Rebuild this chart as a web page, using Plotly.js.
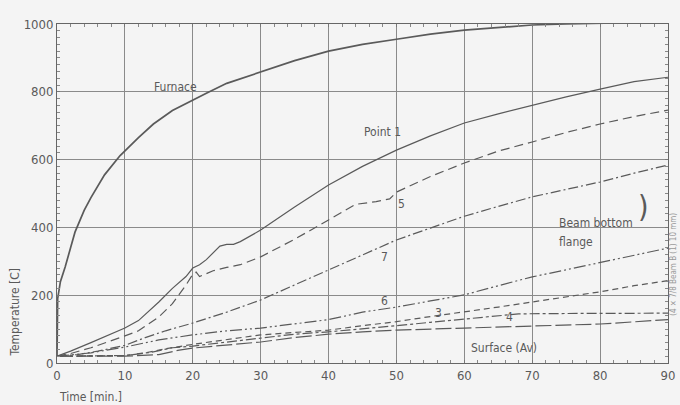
<!DOCTYPE html>
<html>
<head>
<meta charset="utf-8">
<script src="https://cdn.plot.ly/plotly-3.0.1.min.js"></script>
<style>html,body{margin:0;padding:0;background:#f4f4f4;}#chart{width:680px;height:405px;}</style>
</head>
<body>
<div id="chart"></div>
<script>
// Time in minutes, temperatures in °C
const furnaceT = [0, 0.1, 0.5, 1.2, 2, 2.65, 4, 5, 7, 9.3, 12, 14.2, 17, 20, 22, 25, 29.6, 35, 40, 45, 50, 55, 60, 65, 70, 75, 80, 84];
const furnaceV = [20, 190, 240, 283, 340, 386, 450, 488, 555, 612, 665, 705, 745, 776, 796, 825, 855, 892, 920, 940, 955, 970, 982, 990, 997, 1000, 1003, 1004];

const p1T = [0, 2, 5, 8, 10, 12, 15, 17, 19, 20, 21, 22, 23, 24, 25, 26, 27, 28, 30, 35, 40, 45, 50, 55, 60, 65, 70, 75, 80, 85, 90];
const p1V = [20, 35, 60, 85, 103, 125, 180, 220, 255, 280, 290, 305, 325, 345, 350, 350, 358, 370, 392, 460, 525, 580, 628, 670, 708, 735, 761, 785, 808, 830, 843];

const p5T = [0, 2, 5, 8, 10, 12, 15, 17, 19, 20, 20.5, 21, 23, 25, 27, 30, 35, 40, 44, 47, 49, 50, 55, 60, 65, 70, 75, 80, 85, 90];
const p5V = [20, 28, 45, 65, 80, 95, 136, 175, 230, 262, 268, 255, 272, 282, 290, 313, 365, 422, 468, 476, 484, 504, 550, 590, 625, 652, 680, 705, 727, 746];

const p7T = [0, 3, 6, 10, 13, 16, 20, 25, 30, 35, 40, 45, 50, 55, 60, 65, 70, 75, 80, 85, 90];
const p7V = [20, 25, 35, 52, 75, 95, 118, 150, 186, 230, 274, 318, 363, 398, 433, 462, 490, 512, 534, 560, 584];

const p6T = [0, 5, 10, 15, 20, 25, 30, 35, 40, 45, 50, 55, 60, 65, 70, 75, 80, 85, 90];
const p6V = [20, 30, 47, 68, 83, 95, 103, 115, 128, 150, 165, 183, 201, 228, 254, 275, 297, 318, 339];

const p3T = [0, 5, 10, 13, 16, 20, 25, 30, 35, 40, 45, 50, 55, 60, 65, 70, 75, 80, 85, 90];
const p3V = [20, 20, 22, 30, 42, 55, 70, 83, 90, 97, 110, 122, 137, 150, 165, 180, 195, 210, 228, 243];

const p4T = [0, 5, 10, 14, 17, 20, 25, 30, 35, 40, 45, 50, 55, 60, 65, 68, 75, 80, 90];
const p4V = [20, 20, 22, 32, 45, 50, 62, 75, 85, 92, 100, 110, 120, 130, 140, 145, 146, 146, 147];

const surfT = [0, 10, 15, 18, 20, 25, 30, 35, 40, 45, 50, 60, 70, 80, 90];
const surfV = [20, 20, 25, 38, 44, 52, 62, 75, 85, 92, 97, 103, 108, 115, 128];

const xTicks = [0, 10, 20, 30, 40, 50, 60, 70, 80, 90];
const yTicks = [0, 200, 400, 600, 800, 1000];

const ink = '#5a5a5a';
const font = 'Liberation Sans Narrow, DejaVu Sans Condensed, Arial Narrow, sans-serif';

function line(x, y, dash, width) {
  return {x: x, y: y, type: 'scatter', mode: 'lines', hoverinfo: 'skip',
          line: {color: ink, width: width || 1.2, dash: dash}};
}

const traces = [
  line(furnaceT, furnaceV, 'solid', 1.7),
  line(p1T, p1V, 'solid', 1.2),
  line(p5T, p5V, '9px,5px', 1.2),
  line(p7T, p7V, '10px,3px,2px,3px', 1.2),
  line(p6T, p6V, '12px,3px,2px,3px,2px,3px', 1.2),
  line(p3T, p3V, '6px,4px', 1.2),
  line(p4T, p4V, '10px,3px,3px,3px', 1.2),
  line(surfT, surfV, '16px,4px', 1.2)
];

function lab(x, y, text, opts) {
  return Object.assign({x: x, y: y, xref: 'x', yref: 'y', text: text, showarrow: false,
    font: {family: font, size: 12, color: ink}}, opts || {});
}

const annotations = [
  lab(17.4, 814, 'Furnace'),
  lab(48, 681, 'Point 1'),
  lab(50.8, 470, '5'),
  lab(48.3, 313, '7'),
  lab(48.3, 183, '6'),
  lab(56.2, 147, '3'),
  lab(66.6, 136, '4'),
  lab(65.8, 44, 'Surface (Av)'),
  lab(73.6, 413, 'Beam bottom', {xanchor: 'left'}),
  lab(73.6, 357, 'flange', {xanchor: 'left'}),
  lab(86.4, 462, ')', {font: {family: font, size: 30, color: ink}}),
  {xref: 'paper', yref: 'paper', x: -0.068, y: 0.15, xanchor: 'center', yanchor: 'middle',
   text: 'Temperature [C]', textangle: -90,
   showarrow: false, font: {family: font, size: 12, color: ink}},
  {xref: 'paper', yref: 'paper', x: 0, y: -0.1, xanchor: 'left', yanchor: 'middle', text: 'Time [min.]',
   showarrow: false, font: {family: font, size: 12, color: ink}},
  {xref: 'paper', yref: 'paper', x: 1.01, y: 0.29, xanchor: 'center', yanchor: 'middle',
   text: '(4 × 7/8 Beam B (1) 10 mm)', textangle: -90,
   showarrow: false, font: {family: font, size: 8, color: '#999'}}
];

const axisCommon = {
  showgrid: true, gridcolor: '#8a8a8a', gridwidth: 1,
  showline: true, linecolor: '#666', linewidth: 1, mirror: 'allticks',
  ticks: 'inside', ticklen: 3, tickcolor: '#777',
  zeroline: false,
  tickfont: {family: font, size: 13, color: ink}
};

const layout = {
  width: 680, height: 405,
  margin: {l: 57, r: 12, t: 24, b: 42},
  paper_bgcolor: '#f4f4f4', plot_bgcolor: '#f4f4f4',
  showlegend: false,
  xaxis: Object.assign({}, axisCommon, {range: [0, 90], tickvals: xTicks, ticktext: xTicks.map(String),
    minor: {dtick: 2, ticks: 'inside', ticklen: 3, tickcolor: '#888', showgrid: false}}),
  yaxis: Object.assign({}, axisCommon, {range: [0, 1000], tickvals: yTicks, ticktext: yTicks.map(String),
    minor: {dtick: 20, ticks: 'inside', ticklen: 3, tickcolor: '#888', showgrid: false}}),
  annotations: annotations
};

Plotly.newPlot('chart', traces, layout, {staticPlot: true, displayModeBar: false});
</script>
</body>
</html>
